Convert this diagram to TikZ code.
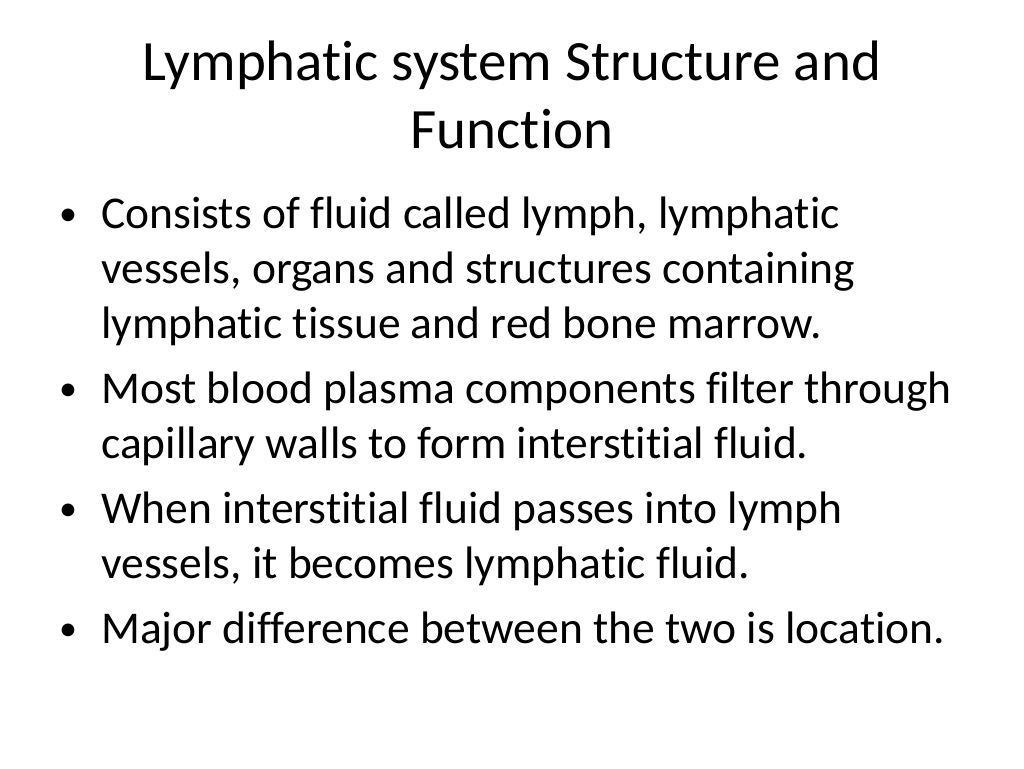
\documentclass[tikz,border=0pt]{standalone}
\usepackage{fontspec}
\setmainfont{Carlito}[RawFeature={-liga}]
\tikzset{
  title line/.style={anchor=base, font=\fontsize{57}{68}\selectfont},
  body line/.style={anchor=base west, inner sep=0pt, font=\fontsize{45.5}{55}\selectfont},
  bullet/.style={anchor=base, inner sep=0pt, font=\fontsize{36}{55}\selectfont}
}
\begin{document}
\begin{tikzpicture}[x=1pt, y=-1pt]
	\useasboundingbox (0,0) rectangle (1024,768);

	\node [title line] (title-1) at (512,80) {Lymphatic system Structure and};
	\node [title line] (title-2) at (512,148) {Function};

	\foreach \y/\t [count=\i] in {
		228/{Consists of fluid called lymph, lymphatic},
		283/{vessels, organs and structures containing},
		338/{lymphatic tissue and red bone marrow.},
		403/{Most blood plasma components filter through},
		458/{capillary walls to form interstitial fluid.},
		523/{When interstitial fluid passes into lymph},
		578/{vessels, it becomes lymphatic fluid.},
		643/{Major difference between the two is location.}}
	\node [body line] (line-\i) at (101,\y) {\t};

	\foreach \y [count=\i] in {228,403,523,643}
	\node [bullet] (bullet-\i) at (68,\y-3) {\textbullet};
\end{tikzpicture}
\end{document}
